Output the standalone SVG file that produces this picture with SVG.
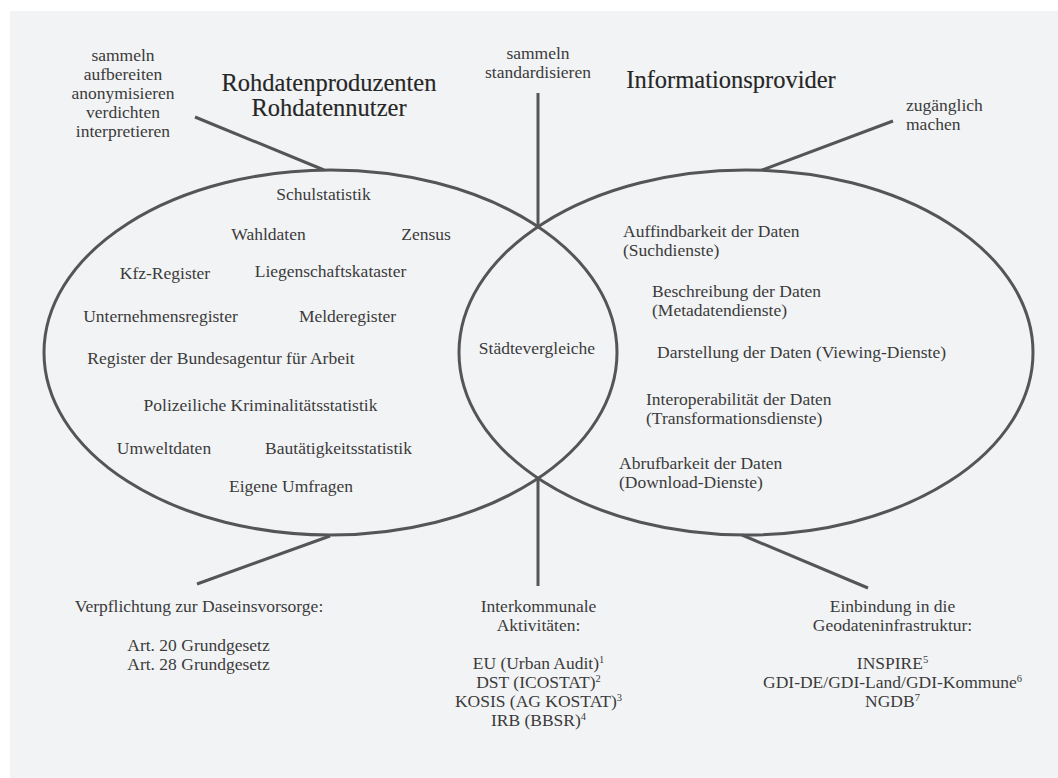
<svg xmlns="http://www.w3.org/2000/svg" width="1058" height="778" viewBox="0 0 1058 778">
<style>
text{font-family:"Liberation Serif","Times New Roman",serif;fill:#3b3b3b;font-size:17.5px}
.t{font-size:24.5px;fill:#262626;stroke:#262626;stroke-width:0.15}
.m{text-anchor:middle}
.e{fill:none;stroke:#555;stroke-width:3}
.c{stroke:#555;stroke-width:3;fill:none}
.sup{font-size:10.5px}
</style>
<rect x="10" y="11" width="1048" height="767" fill="#f2f3f5"/>
<g id="connectors">
<line class="c" x1="195" y1="117" x2="324" y2="170"/>
<line class="c" x1="538" y1="93" x2="538" y2="227"/>
<line class="c" x1="893" y1="121" x2="762" y2="170"/>
<line class="c" x1="197" y1="584" x2="330" y2="536"/>
<line class="c" x1="538" y1="478" x2="538" y2="586"/>
<line class="c" x1="742" y1="535" x2="868" y2="588"/>
</g>
<g id="left-ellipse">
<ellipse class="e" cx="330.5" cy="352.5" rx="286.5" ry="182.5"/>
<text class="m" x="323.5" y="200">Schulstatistik</text>
<text class="m" x="268.5" y="240">Wahldaten</text>
<text class="m" x="426" y="240">Zensus</text>
<text class="m" x="165" y="279">Kfz-Register</text>
<text class="m" x="330.5" y="277">Liegenschaftskataster</text>
<text class="m" x="160.5" y="322">Unternehmensregister</text>
<text class="m" x="347.5" y="322">Melderegister</text>
<text class="m" x="221" y="364">Register der Bundesagentur für Arbeit</text>
<text class="m" x="260.5" y="411">Polizeiliche Kriminalitätsstatistik</text>
<text class="m" x="164" y="454">Umweltdaten</text>
<text class="m" x="338.5" y="454">Bautätigkeitsstatistik</text>
<text class="m" x="291" y="492">Eigene Umfragen</text>
</g>
<g id="right-ellipse">
<ellipse class="e" cx="746" cy="352.5" rx="287" ry="182.5"/>
<text x="623" y="237">Auffindbarkeit der Daten</text>
<text x="623" y="256">(Suchdienste)</text>
<text x="652" y="297">Beschreibung der Daten</text>
<text x="652" y="316">(Metadatendienste)</text>
<text x="657" y="358">Darstellung der Daten (Viewing-Dienste)</text>
<text x="646" y="405">Interoperabilität der Daten</text>
<text x="646" y="424">(Transformationsdienste)</text>
<text x="619" y="469">Abrufbarkeit der Daten</text>
<text x="619" y="488">(Download-Dienste)</text>
</g>
<g id="intersection">
<text class="m" x="537" y="354">Städtevergleiche</text>
</g>
<g id="title-left">
<text class="m t" x="329" y="90.5">Rohdatenproduzenten</text>
<text class="m t" x="329" y="116">Rohdatennutzer</text>
</g>
<g id="title-right">
<text class="m t" x="731" y="87.5">Informationsprovider</text>
</g>
<g id="label-top-left">
<text class="m" x="123" y="61">sammeln</text>
<text class="m" x="123" y="80">aufbereiten</text>
<text class="m" x="123" y="99">anonymisieren</text>
<text class="m" x="123" y="118">verdichten</text>
<text class="m" x="123" y="137">interpretieren</text>
</g>
<g id="label-top-center">
<text class="m" x="538" y="58.5">sammeln</text>
<text class="m" x="538" y="78">standardisieren</text>
</g>
<g id="label-top-right">
<text x="906" y="110.5">zugänglich</text>
<text x="906" y="130">machen</text>
</g>
<g id="label-bottom-left">
<text class="m" x="199" y="612">Verpflichtung zur Daseinsvorsorge:</text>
<text class="m" x="198.5" y="651">Art. 20 Grundgesetz</text>
<text class="m" x="198.5" y="670">Art. 28 Grundgesetz</text>
</g>
<g id="label-bottom-center">
<text class="m" x="538.5" y="612">Interkommunale</text>
<text class="m" x="538.5" y="631">Aktivitäten:</text>
<text class="m" x="538.5" y="669">EU (Urban Audit)<tspan class="sup" dy="-6">1</tspan></text>
<text class="m" x="538.5" y="688">DST (ICOSTAT)<tspan class="sup" dy="-6">2</tspan></text>
<text class="m" x="538.5" y="707">KOSIS (AG KOSTAT)<tspan class="sup" dy="-6">3</tspan></text>
<text class="m" x="538.5" y="726">IRB (BBSR)<tspan class="sup" dy="-6">4</tspan></text>
</g>
<g id="label-bottom-right">
<text class="m" x="892.5" y="612">Einbindung in die</text>
<text class="m" x="892.5" y="631">Geodateninfrastruktur:</text>
<text class="m" x="892.5" y="669">INSPIRE<tspan class="sup" dy="-6">5</tspan></text>
<text class="m" x="892.5" y="688">GDI-DE/GDI-Land/GDI-Kommune<tspan class="sup" dy="-6">6</tspan></text>
<text class="m" x="892.5" y="707">NGDB<tspan class="sup" dy="-6">7</tspan></text>
</g>
</svg>
